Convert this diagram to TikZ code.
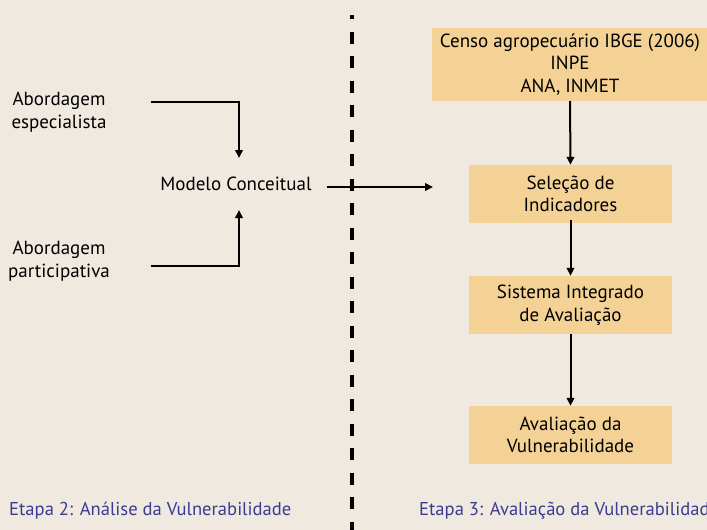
\documentclass[tikz,border=0pt]{standalone}
\usepackage{fontspec}
\setmainfont{PT Sans}
\usetikzlibrary{arrows.meta}
\definecolor{bgc}{RGB}{240,233,224}
\definecolor{boxc}{RGB}{244,209,148}
\definecolor{bluec}{RGB}{58,60,145}
\tikzset{
  txt/.style={align=center,font=\fontsize{19}{22.5}\selectfont,inner sep=0pt},
  boxnode/.style={txt,fill=boxc,minimum height=58pt,minimum width=203pt},
  conn/.style={line width=2pt,-{Triangle[length=8pt,width=7.5pt]}},
  etapa/.style={font=\fontsize{18.6}{22.5}\selectfont,text=bluec,anchor=west,inner sep=0pt}
}
\begin{document}
\begin{tikzpicture}[x=1pt,y=-1pt]
\fill[bgc] (0,0) rectangle (707,530);
\useasboundingbox (0,0) rectangle (707,530);
% dashed divider
\coordinate (dT) at (352,15);
\coordinate (dB) at (352,530);
\draw[line width=3.5pt,dash pattern=on 12pt off 12.5pt,dash phase=8pt] (dT) -- (dB);
% left part
\node[txt] (ae) at (59,112) {Abordagem\\especialista};
\node[txt] (ap) at (59,261) {Abordagem\\participativa};
\node[txt] (mc) at (236,184) {Modelo Conceitual};
\coordinate (aeS) at (151,102);
\coordinate (aeC) at (239,102);
\coordinate (mcT) at (239,158);
\coordinate (apS) at (151,266);
\coordinate (apC) at (239,266);
\coordinate (mcB) at (239,210);
\coordinate (mcR) at (327,187);
\coordinate (arE) at (433,187);
\draw[conn] (aeS) -- (aeC) -- (mcT);
\draw[conn] (apS) -- (apC) -- (mcB);
\draw[conn] (mcR) -- (arE);
% right part
\node[boxnode,minimum width=276pt,minimum height=73pt] (src) at (570,64.5) {Censo agropecuário IBGE (2006)\\INPE\\ANA, INMET};
\node[boxnode] (sel) at (570.5,194) {Seleção de\\Indicadores};
\node[boxnode] (sis) at (570.5,305) {Sistema Integrado\\de Avaliação};
\node[boxnode] (ava) at (570.5,435) {Avaliação da\\Vulnerabilidade};
\draw[conn] (src.south) -- (sel.north);
\draw[conn] ([yshift=3pt]sel.south) -- (sis.north);
\draw[conn] (sis.south) -- (ava.north);
% stage labels
\node[etapa] (e2) at (9,511) {Etapa 2: Análise da Vulnerabilidade};
\node[etapa] (e3) at (419,511) {Etapa 3: Avaliação da Vulnerabilidade};
\end{tikzpicture}
\end{document}
